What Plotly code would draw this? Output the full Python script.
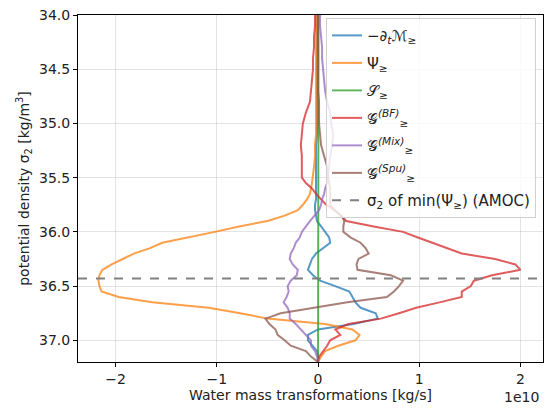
import numpy as np
import plotly.graph_objects as go

# potential density levels (sigma_2, kg/m3)
sigma = [34.0, 34.1, 34.2, 34.3, 34.4, 34.5, 34.6, 34.7, 34.8, 34.9,
         35.0, 35.1, 35.2, 35.3, 35.4, 35.5, 35.55, 35.6, 35.65, 35.7,
         35.75, 35.8, 35.85, 35.9, 35.95, 36.0, 36.05, 36.1, 36.15, 36.2,
         36.25, 36.3, 36.35, 36.4, 36.45, 36.5, 36.55, 36.6, 36.65, 36.7,
         36.75, 36.8, 36.85, 36.9, 36.95, 37.0, 37.05, 37.1, 37.15, 37.2]

# transformations in units of 1e10 kg/s
dMdt = [-0.01, -0.01, -0.01, -0.01, -0.01, -0.01, -0.01, -0.01, -0.01, -0.01,
        -0.01, -0.01, -0.02, -0.02, -0.02, -0.02, -0.02, -0.02, -0.02, -0.02,
        -0.03, -0.03, -0.02, -0.01, 0.03, 0.07, 0.11, 0.12, 0.05, -0.02,
        -0.06, -0.08, -0.10, -0.05, 0.02, 0.17, 0.31, 0.34, 0.37, 0.42,
        0.57, 0.59, 0.35, 0.0, -0.10, -0.10, -0.05, -0.01, 0.0, 0.0]
psi = [-0.02, -0.02, -0.02, -0.02, -0.02, -0.02, -0.02, -0.02, -0.02, -0.02,
       -0.02, -0.02, -0.03, -0.03, -0.04, -0.05, -0.06, -0.07, -0.08, -0.11,
       -0.15, -0.20, -0.33, -0.50, -0.78, -1.02, -1.27, -1.54, -1.66, -1.82,
       -1.93, -2.04, -2.13, -2.16, -2.17, -2.16, -2.14, -1.97, -1.64, -1.08,
       -0.77, -0.50, 0.07, 0.34, 0.41, 0.37, 0.20, 0.07, 0.03, 0.0]
surf = [0.005, 0.005, 0.005, 0.005, 0.005, 0.005, 0.005, 0.005, 0.005, 0.005,
        0.005, 0.005, 0.005, 0.005, 0.005, 0.005, 0.005, 0.005, 0.005, 0.005,
        0.0, 0.0, 0.0, 0.0, 0.0, 0.0, 0.0, 0.0, 0.0, 0.0,
        0.0, 0.0, 0.0, 0.0, 0.0, 0.0, 0.0, 0.0, 0.0, 0.0,
        0.0, 0.0, 0.0, 0.0, 0.0, 0.0, 0.0, 0.0, 0.0, 0.0]
g_bf = [-0.03, -0.03, -0.04, -0.04, -0.05, -0.05, -0.06, -0.07, -0.08, -0.12,
        -0.15, -0.16, -0.17, -0.16, -0.16, -0.16, -0.12, -0.06, -0.02, 0.03,
        0.08, 0.17, 0.23, 0.28, 0.55, 0.84, 0.98, 1.13, 1.28, 1.42,
        1.75, 1.95, 2.00, 1.72, 1.54, 1.51, 1.42, 1.42, 1.20, 0.97,
        0.80, 0.62, 0.30, 0.17, 0.22, 0.12, 0.09, 0.05, 0.01, 0.0]
g_mix = [0.02, 0.02, 0.03, 0.04, 0.04, 0.05, 0.06, 0.07, 0.09, 0.12,
         0.13, 0.15, 0.14, 0.12, 0.11, 0.10, 0.09, 0.07, 0.06, 0.04,
         0.03, 0.01, -0.04, -0.08, -0.12, -0.16, -0.18, -0.22, -0.24, -0.27,
         -0.28, -0.25, -0.20, -0.21, -0.27, -0.30, -0.29, -0.31, -0.34, -0.30,
         -0.28, -0.28, -0.22, -0.17, -0.12, -0.07, -0.07, -0.03, -0.01, 0.0]
g_spu = [0.0, 0.0, 0.0, 0.0, 0.0, 0.0, 0.0, 0.0, 0.01, 0.01,
         0.01, 0.02, 0.03, 0.06, 0.09, 0.10, 0.11, 0.12, 0.12, 0.12,
         0.12, 0.16, 0.23, 0.26, 0.25, 0.25, 0.32, 0.42, 0.47, 0.50,
         0.40, 0.38, 0.39, 0.72, 0.84, 0.80, 0.75, 0.68, 0.29, -0.04,
         -0.37, -0.52, -0.48, -0.42, -0.40, -0.33, -0.27, -0.12, -0.07, 0.0]

names = ["−∂<sub><i>t</i></sub>ℳ<sub>≥</sub>",
         "Ψ<sub>≥</sub>",
         "𝒮<sub>≥</sub>",
         "𝒢<sup><i>(BF)</i></sup><sub>≥</sub>",
         "𝒢<sup><i>(Mix)</i></sup><sub>≥</sub>",
         "𝒢<sup><i>(Spu)</i></sup><sub>≥</sub>"]
colors = ["#1f77b4", "#ff7f0e", "#2ca02c", "#d62728", "#9467bd", "#8c564b"]

x_range = [-2.372, 2.223]
y_range = [37.2, 34.0]

fig = go.Figure()
for i, (vals, name, col) in enumerate(zip([dMdt, psi, surf, g_bf, g_mix, g_spu], names, colors)):
    fig.add_trace(go.Scatter(x=vals, y=sigma, mode="lines", name=name,
                             legendgroup=str(i),
                             line=dict(color=col, width=2), opacity=0.75))

# sigma_2 of minimum of Psi (AMOC)
sig_amoc = sigma[int(np.argmin(psi))] - 0.02
fig.add_trace(go.Scatter(x=x_range, y=[sig_amoc, sig_amoc], mode="lines",
                         name="σ<sub>2</sub> of min(Ψ<sub>≥</sub>) (AMOC)",
                         legendgroup="amoc",
                         line=dict(color="gray", width=2, dash="dash")))

axis_style = dict(showline=True, linecolor="black", linewidth=1, mirror=True,
                  ticks="outside", ticklen=4, tickcolor="black",
                  showgrid=True, gridcolor="rgba(176,176,176,0.35)", gridwidth=1,
                  zeroline=False, automargin=False,
                  tickfont=dict(size=14, color="#222"))

fig.update_xaxes(range=x_range, tickvals=[-2, -1, 0, 1, 2],
                 ticktext=["−2", "−1", "0", "1", "2"],
                 title=dict(text="Water mass transformations [kg/s]", standoff=4,
                            font=dict(size=14, color="#222")),
                 **axis_style)
fig.update_yaxes(range=y_range, tickvals=[34.0, 34.5, 35.0, 35.5, 36.0, 36.5, 37.0],
                 ticktext=["34.0", "34.5", "35.0", "35.5", "36.0", "36.5", "37.0"],
                 title=dict(text="potential density σ<sub>2</sub> [kg/m<sup>3</sup>]",
                            standoff=6, font=dict(size=14, color="#222")),
                 **axis_style)

fig.add_annotation(text="1e10", xref="paper", yref="paper", x=0.996, y=-0.101,
                   xanchor="right", yanchor="middle", showarrow=False,
                   font=dict(size=14, color="#222"))

fig.update_layout(
    width=552, height=415,
    margin=dict(l=78, r=9, t=15, b=53),
    paper_bgcolor="white", plot_bgcolor="white",
    font=dict(family="DejaVu Sans", size=14, color="#222"),
    showlegend=True,
    legend=dict(x=0.985, y=0.991, xanchor="right", yanchor="top",
                bgcolor="rgba(255,255,255,0.8)", bordercolor="#d0d0d0",
                borderwidth=1, font=dict(size=15), tracegroupgap=5),
)

fig.write_html("out.html", config={"displayModeBar": False},
               post_script="document.body.style.margin='0';")
